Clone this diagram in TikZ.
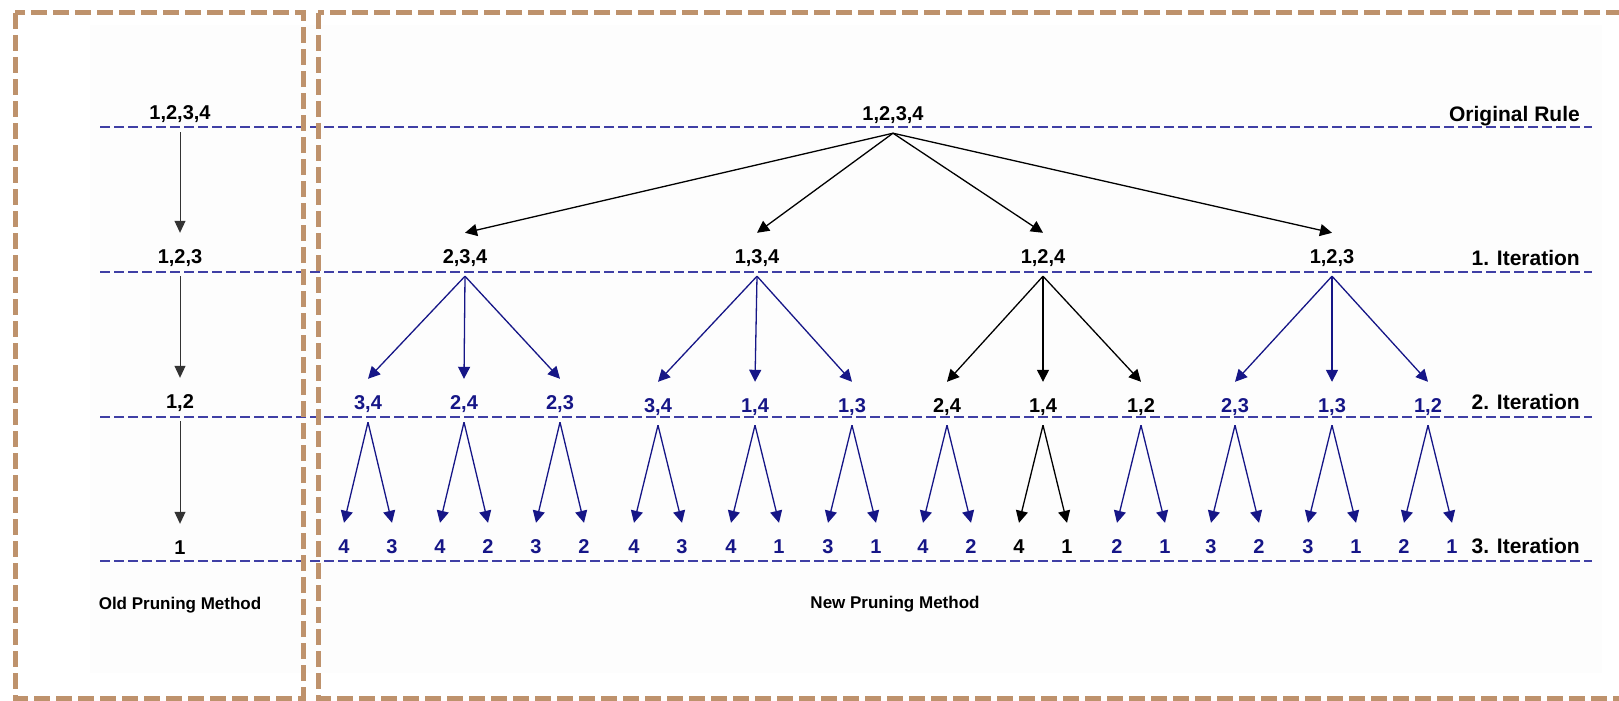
\documentclass[tikz,border=0pt]{standalone}
\usepackage{fontspec}
\setmainfont{Liberation Sans}
\usetikzlibrary{arrows.meta}
\definecolor{frame}{RGB}{190,146,108}
\definecolor{guide}{RGB}{64,64,165}
\definecolor{navy}{RGB}{22,22,135}
\definecolor{paper}{RGB}{253,253,253}

\begin{document}
\begin{tikzpicture}[x=1pt,y=-1pt,
  num/.style={font=\fontsize{20}{24}\selectfont\bfseries, inner sep=0pt,
              text height=30pt, text depth=13pt, anchor=base},
  levelname/.style={font=\fontsize{21}{25}\selectfont\bfseries, inner sep=0pt, anchor=base east},
  method/.style={font=\fontsize{17}{20}\selectfont\bfseries, inner sep=0pt, anchor=base},
  guide line/.style={draw=guide, line width=1.6pt, dash pattern=on 10pt off 4pt},
  panel/.style={draw=frame, line width=5pt, dash pattern=on 16pt off 6pt},
  link/.style={line width=1.3pt, -{Triangle[length=12pt,width=12pt]}},
  oldlink/.style={draw=black!80, line width=1pt, -{Triangle[length=12pt,width=11pt]}},
]
\useasboundingbox (0,0) rectangle (1619,701);
\clip (0,0) rectangle (1619,701);

% paper area
\fill[paper] (90,25) rectangle (1602,673);

% level guide lines
\foreach \y in {127,272,417,561}
  \draw[guide line] (100,\y) -- (1592,\y);

% level names
\node[levelname] (t0) at (1580,121) {Original Rule};
\node[levelname] (t1) at (1580,265) {1. Iteration};
\node[levelname] (t2) at (1580,409) {2. Iteration};
\node[levelname] (t3) at (1580,553) {3. Iteration};

% old method: a single chain
\node[num] (o4) at (180,119) {1,2,3,4};
\node[num] (o3) at (180,263) {1,2,3};
\node[num] (o2) at (180,408) {1,2};
\node[num] (o1) at (180,554) {1};
\draw[oldlink] (o4.south) -- (o3.north);
\draw[oldlink] (o3.south) -- (o2.north);
\draw[oldlink] (o2.south) -- (o1.north);

% new method: full tree
\node[num] (r) at (893,120) {1,2,3,4};
\node[num] (p1) at (465,263) {2,3,4};
\node[num] (p2) at (757,263) {1,3,4};
\node[num] (p3) at (1043,263) {1,2,4};
\node[num] (p4) at (1332,263) {1,2,3};
\foreach \p in {p1,p2,p3,p4}
  \draw[link, draw=black] (r.south) -- (\p.north);

\foreach \n/\p/\x/\y/\t/\l/\r/\tc/\ec/\lc in {
  a1/p1/368/409/{3,4}/4/3/navy/navy/navy,
  a2/p1/464/409/{2,4}/4/2/navy/navy/navy,
  a3/p1/560/409/{2,3}/3/2/navy/navy/navy,
  b1/p2/658/412/{3,4}/4/3/navy/navy/navy,
  b2/p2/755/412/{1,4}/4/1/navy/navy/navy,
  b3/p2/852/412/{1,3}/3/1/navy/navy/navy,
  c1/p3/947/412/{2,4}/4/2/black/black/navy,
  c2/p3/1043/412/{1,4}/4/1/black/black/black,
  c3/p3/1141/412/{1,2}/2/1/black/black/navy,
  d1/p4/1235/412/{2,3}/3/2/navy/navy/navy,
  d2/p4/1332/412/{1,3}/3/1/navy/navy/navy,
  d3/p4/1428/412/{1,2}/2/1/navy/navy/navy}{
  \node[num, text=\tc] (\n) at (\x,\y) {\t};
  \draw[link, draw=\ec] (\p.south) -- (\n.north);
  \node[num, text=\lc] (\n-l) at (\x-24,553) {\l};
  \node[num, text=\lc] (\n-r) at (\x+24,553) {\r};
  \draw[link, draw=\lc] (\n.south) -- (\n-l.north);
  \draw[link, draw=\lc] (\n.south) -- (\n-r.north);
}

% captions
\node[method] (mo) at (180,609) {Old Pruning Method};
\node[method] (mn) at (895,608) {New Pruning Method};

% dashed panels
\draw[panel] (15,13) rectangle (303,698);
\draw[panel] (318,13) rectangle (1660,698);
\end{tikzpicture}
\end{document}
